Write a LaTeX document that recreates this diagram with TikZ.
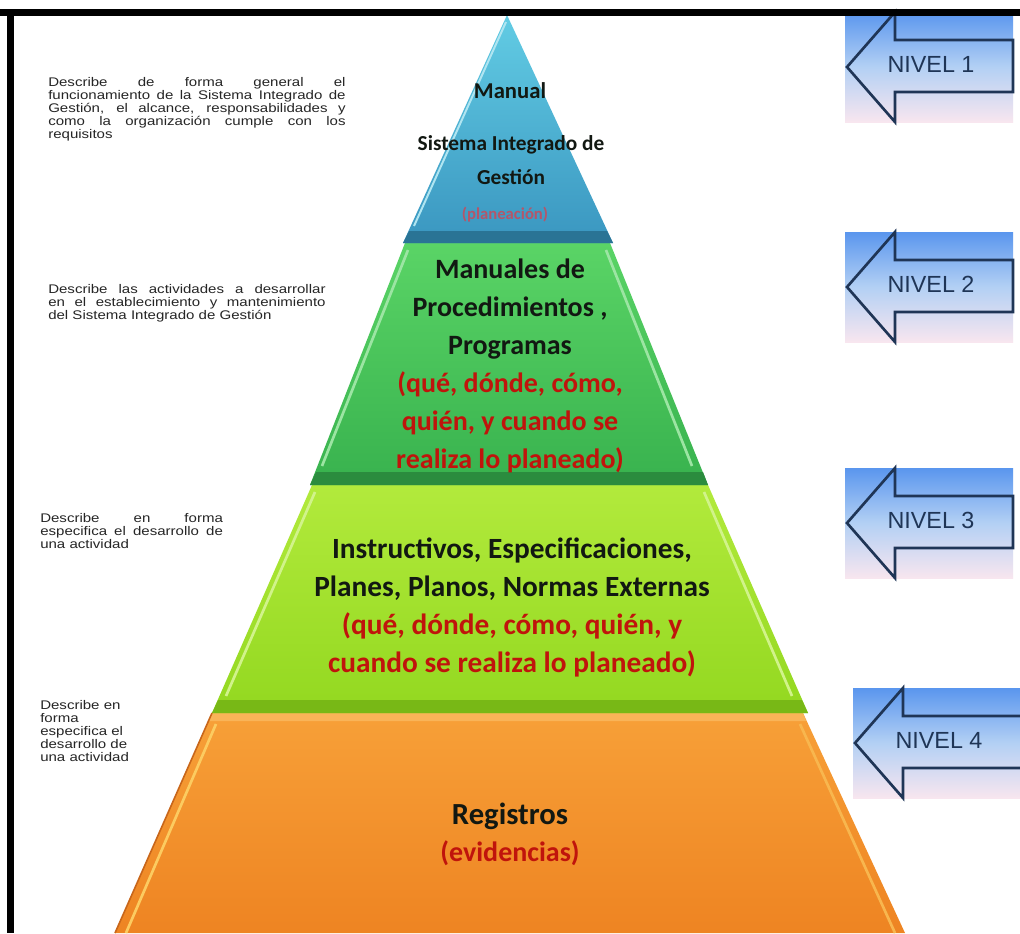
\documentclass[tikz,border=0pt]{standalone}
\usepackage{fontspec}
\setmainfont{Liberation Sans}
\newfontfamily\calib{Carlito}
\newfontfamily\descfont[FakeStretch=1.2]{Liberation Sans}
\definecolor{bluTop}{HTML}{62CCE4}
\definecolor{bluBot}{HTML}{3A96C0}
\definecolor{bluBand}{HTML}{2A7495}
\definecolor{grnTop}{HTML}{5AD466}
\definecolor{grnBot}{HTML}{38B24E}
\definecolor{grnBand}{HTML}{2B8C3E}
\definecolor{ygTop}{HTML}{B2EA3C}
\definecolor{ygBot}{HTML}{93D820}
\definecolor{ygBand}{HTML}{78B816}
\definecolor{orTop}{HTML}{F7A038}
\definecolor{orBot}{HTML}{EE8422}
\definecolor{orBand}{HTML}{F9B458}
\definecolor{orHi}{HTML}{FCCB60}
\definecolor{orEdge}{HTML}{C8661A}
\definecolor{arrTop}{HTML}{5A96EE}
\definecolor{arrMid}{HTML}{B3D0F4}
\definecolor{arrBot}{HTML}{F8E6EF}
\definecolor{arrLine}{HTML}{1F3556}
\definecolor{darkTxt}{HTML}{121812}
\definecolor{redTxt}{HTML}{C0140C}
\definecolor{fadeRed}{HTML}{B4566A}
\tikzset{
  lefttext/.style={anchor=north west, inner sep=0pt, font=\descfont\fontsize{9.4}{9.7}\selectfont, text=black!85},
  tiertext/.style={inner sep=0pt, align=center, text=darkTxt},
  niveltext/.style={inner sep=0pt, font=\fontsize{17.5}{20}\selectfont, text=arrLine},
  arrline/.style={draw=arrLine, line width=2pt, line join=miter},
  hiline/.style={line width=2pt},
}
\newcommand\nivelarrow[5]{%
  \begin{scope}[shift={(#1,#2)}]
    \fill[top color=arrTop, bottom color=arrBot, middle color=arrMid] (-2,-55) rectangle (#3,55);
    \draw[arrline] (0,0) -- (48,-55) -- (48,-27) -- (#3,-27) -- (#3,25) -- (48,25) -- (48,55) -- cycle;
    \node[niveltext] (#5) at (84,-3) {#4};
  \end{scope}}
\begin{document}
\begin{tikzpicture}[x=0.75pt,y=-0.75pt]
\useasboundingbox (0,0) rectangle (1020,933);
\clip (0,0) rectangle (1020,933);
\fill[white] (0,0) rectangle (1020,933);

% Tier 4 (orange)
\path[top color=orTop, bottom color=orBot] (212,713) -- (803,713) -- (905,933) -- (115,933) -- cycle;
\fill[orBand] (212,713) -- (803,713) -- (806,721) -- (208,721) -- cycle;
\draw[orEdge, line width=1.2pt] (212,713) -- (115,933);
\draw[orHi, hiline] (216,724) -- (126,933);
\draw[orHi!70!orBot, hiline] (800,724) -- (895,933);

% Tier 3 (yellow-green)
\path[top color=ygTop, bottom color=ygBot] (312,485) -- (708,485) -- (808,713) -- (212,713) -- cycle;
\fill[ygBand] (218,700) -- (802,700) -- (808,713) -- (212,713) -- cycle;
\draw[ygTop!60!white, hiline] (315,492) -- (226,696);
\draw[ygTop!60!white, hiline] (704,492) -- (792,696);

% Tier 2 (green)
\path[top color=grnTop, bottom color=grnBot] (405,243) -- (610,243) -- (708,485) -- (310,485) -- cycle;
\fill[grnBand] (316,472) -- (703,472) -- (708,485) -- (310,485) -- cycle;
\draw[grnTop!60!white, hiline] (408,250) -- (322,466);
\draw[grnTop!60!white, hiline] (606,250) -- (692,466);

% Tier 1 (blue)
\path[top color=bluTop, bottom color=bluBot] (507,15) -- (613,243) -- (403,243) -- cycle;
\fill[bluBand] (409,231) -- (607,231) -- (613,243) -- (403,243) -- cycle;
\draw[bluTop!50!white, line width=1.5pt] (506,22) -- (414,226);

% Tier texts
\node[tiertext, font=\calib\bfseries\fontsize{17}{20}\selectfont] (manual) at (510,91) {Manual};
\node[tiertext, font=\calib\bfseries\fontsize{16}{25}\selectfont] (sig) at (511,160) {Sistema Integrado de\\Gestión};
\node[tiertext, font=\calib\bfseries\fontsize{12.5}{15}\selectfont, text=fadeRed] (plan) at (505,215) {(planeación)};

\node[tiertext, font=\calib\bfseries\fontsize{21}{28.5}\selectfont] (t2) at (510,366)
  {Manuales de\\Procedimientos ,\\Programas\\\textcolor{redTxt}{(qué, dónde, cómo,}\\\textcolor{redTxt}{quién, y cuando se}\\\textcolor{redTxt}{realiza lo planeado)}};

\node[tiertext, font=\calib\bfseries\fontsize{22}{28.5}\selectfont] (t3) at (512,607)
  {Instructivos, Especificaciones,\\Planes, Planos, Normas Externas\\\textcolor{redTxt}{(qué, dónde, cómo, quién, y}\\\textcolor{redTxt}{cuando se realiza lo planeado)}};

\node[tiertext, font=\calib\bfseries\fontsize{23}{27}\selectfont] (reg) at (510,816) {Registros};
\node[tiertext, font=\calib\bfseries\fontsize{21}{25}\selectfont, text=redTxt] (evid) at (510,853) {(evidencias)};

% Left descriptions
\node[lefttext, text width=223pt, align=justify] (d1) at (48,77)
  {Describe de forma general el\linebreak funcionamiento de la Sistema Integrado de\linebreak Gestión, el alcance, responsabilidades y\linebreak como la organización cumple con los\linebreak requisitos};
\node[lefttext, text width=208pt, align=justify] (d2) at (48,284)
  {Describe las actividades a desarrollar\linebreak en el establecimiento y mantenimiento\linebreak del Sistema Integrado de Gestión};
\node[lefttext, text width=137pt, align=justify] (d3) at (40,513)
  {Describe en forma\linebreak especifica el desarrollo de\linebreak una actividad};
\node[lefttext, align=left] (d4) at (40,700)
  {Describe en\\forma\\especifica el\\desarrollo de\\una actividad};

% Level arrows
\nivelarrow{847}{67}{166}{NIVEL 1}{n1}
\nivelarrow{847}{287}{166}{NIVEL 2}{n2}
\nivelarrow{847}{523}{166}{NIVEL 3}{n3}
\nivelarrow{855}{743}{180}{NIVEL 4}{n4}

% Frame
\fill[black] (0,9) rectangle (1020,16);
\fill[black] (7,9) rectangle (14,933);
\end{tikzpicture}
\end{document}
